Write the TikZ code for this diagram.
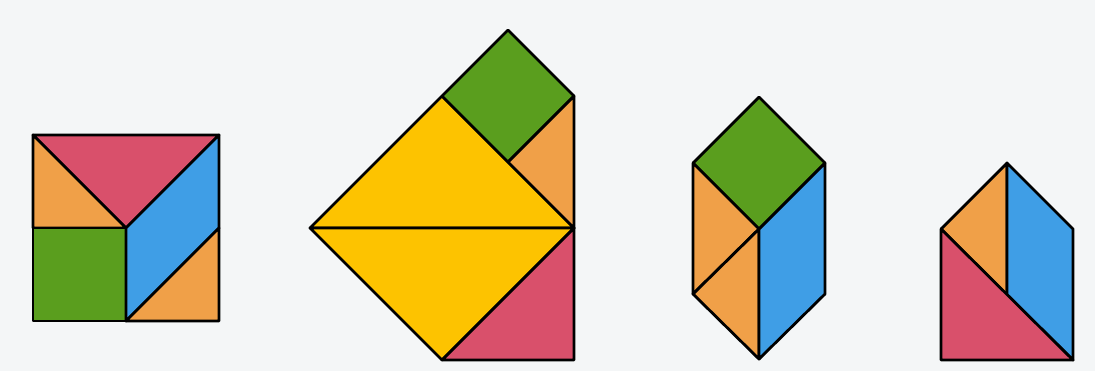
\documentclass[tikz,border=0pt]{standalone}
\usepackage{tikz}
\definecolor{bg}{HTML}{F4F6F7}
\definecolor{tred}{HTML}{D9506B}
\definecolor{tyellow}{HTML}{FDC300}
\definecolor{tgreen}{HTML}{5A9E1E}
\definecolor{tblue}{HTML}{3F9EE6}
\definecolor{torange}{HTML}{F0A048}
\tikzset{
  piece/.style={draw=black, line width=1.4pt, line join=round},
  red piece/.style={piece, fill=tred},
  yellow piece/.style={piece, fill=tyellow},
  green piece/.style={piece, fill=tgreen},
  blue piece/.style={piece, fill=tblue},
  orange piece/.style={piece, fill=torange},
}
\begin{document}
\begin{tikzpicture}[x=0.5pt,y=-0.5pt]
\fill[bg] (0,0) rectangle (1095,371);
\useasboundingbox (0,0) rectangle (1095,371);
% ---------- Figure 1: square ----------
\begin{scope}
\coordinate (a1) at (33,135); \coordinate (a2) at (219,135);
\coordinate (a3) at (219,228); \coordinate (a4) at (219,321);
\coordinate (a5) at (126,321); \coordinate (a6) at (33,321);
\coordinate (a7) at (33,228); \coordinate (ac) at (126,228);
\draw[red piece] (a1) -- (a2) -- (ac) -- cycle;
\draw[orange piece] (a1) -- (ac) -- (a7) -- cycle;
\draw[green piece] (a7) -- (ac) -- (a5) -- (a6) -- cycle;
\draw[blue piece] (ac) -- (a2) -- (a3) -- (a5) -- cycle;
\draw[orange piece] (a5) -- (a3) -- (a4) -- cycle;
\end{scope}
% ---------- Figure 2 ----------
\begin{scope}
\coordinate (bL) at (310,228); \coordinate (bM) at (574,228);
\coordinate (bT) at (442,96); \coordinate (bB) at (442,360);
\coordinate (bBR) at (574,360); \coordinate (bR) at (574,96);
\coordinate (bG) at (508,30); \coordinate (bGb) at (508,162);
\draw[yellow piece] (bL) -- (bT) -- (bM) -- cycle;
\draw[yellow piece] (bL) -- (bM) -- (bB) -- cycle;
\draw[red piece] (bB) -- (bM) -- (bBR) -- cycle;
\draw[green piece] (bT) -- (bG) -- (bR) -- (bGb) -- cycle;
\draw[orange piece] (bR) -- (bGb) -- (bM) -- cycle;
\end{scope}
% ---------- Figure 3 ----------
\begin{scope}
\coordinate (cT) at (759,97); \coordinate (cTL) at (693,163);
\coordinate (cTR) at (825,163); \coordinate (cC) at (759,229);
\coordinate (cL) at (693,294); \coordinate (cR) at (825,294);
\coordinate (cB) at (759,359);
\draw[green piece] (cT) -- (cTR) -- (cC) -- (cTL) -- cycle;
\draw[orange piece] (cTL) -- (cC) -- (cL) -- cycle;
\draw[orange piece] (cL) -- (cC) -- (cB) -- cycle;
\draw[blue piece] (cC) -- (cTR) -- (cR) -- (cB) -- cycle;
\end{scope}
% ---------- Figure 4 ----------
\begin{scope}
\coordinate (dT) at (1007,163); \coordinate (dL) at (941,229);
\coordinate (dR) at (1073,229); \coordinate (dC) at (1007,295);
\coordinate (dBL) at (941,360); \coordinate (dBR) at (1073,360);
\draw[orange piece] (dT) -- (dL) -- (dC) -- cycle;
\draw[blue piece] (dT) -- (dR) -- (dBR) -- (dC) -- cycle;
\draw[red piece] (dL) -- (dBR) -- (dBL) -- cycle;
\end{scope}
\end{tikzpicture}
\end{document}
